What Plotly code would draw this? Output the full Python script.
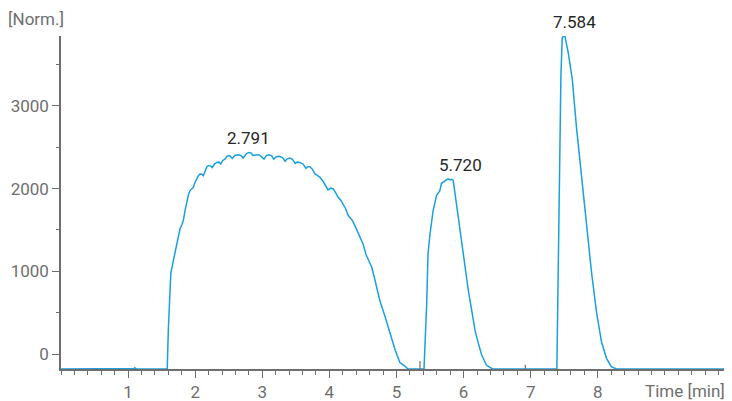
import plotly.graph_objects as go
import numpy as np

# Chromatogram signal (time in min, signal in Norm.)
time_min = [0.0, 1.05, 1.09, 1.10, 1.12, 1.15, 1.583, 1.60, 1.636, 1.675, 1.725, 1.774, 1.80, 1.823,
            1.85, 1.873, 1.90, 1.923, 1.95, 1.972, 2.0, 2.022, 2.05, 2.072, 2.10, 2.121, 2.15, 2.175,
            2.196, 2.23, 2.255, 2.29, 2.32, 2.355, 2.38, 2.41, 2.445, 2.47, 2.49, 2.52, 2.553, 2.59,
            2.64, 2.68, 2.715, 2.76, 2.80, 2.835, 2.86, 2.90, 2.94, 2.97, 3.0, 3.025, 3.06, 3.10,
            3.14, 3.17, 3.21, 3.25, 3.30, 3.34, 3.37, 3.41, 3.45, 3.49, 3.52, 3.56, 3.61, 3.65, 3.68,
            3.71, 3.75, 3.785, 3.82, 3.86, 3.90, 3.93, 3.96, 3.98, 4.02, 4.058, 4.10, 4.13, 4.17,
            4.207, 4.24, 4.28, 4.32, 4.356, 4.39, 4.43, 4.47, 4.50, 4.55, 4.59, 4.63, 4.68, 4.75,
            4.83, 4.90, 4.98, 5.05, 5.125, 5.17, 5.41, 5.45, 5.47, 5.50, 5.546, 5.596, 5.646, 5.67,
            5.72, 5.75, 5.77, 5.80, 5.82, 5.845, 5.88, 5.92, 5.97, 6.02, 6.07, 6.12, 6.17, 6.22,
            6.27, 6.34, 6.43, 7.39, 7.42, 7.45, 7.47, 7.49, 7.51, 7.56, 7.62, 7.68, 7.757, 7.83,
            7.906, 7.98, 8.055, 8.13, 8.20, 8.28, 10.0]
signal = [-181, -181, -175, -165, -178, -181, -181, 300, 972, 1133, 1333, 1514, 1560, 1614,
          1740, 1835, 1930, 1976, 2000, 2016, 2080, 2117, 2160, 2177, 2175, 2157, 2210, 2265,
          2277, 2275, 2255, 2300, 2317, 2320, 2297, 2340, 2357, 2390, 2398, 2395, 2365, 2400,
          2410, 2400, 2370, 2420, 2437, 2430, 2400, 2405, 2410, 2398, 2380, 2357, 2400, 2410,
          2395, 2357, 2385, 2390, 2375, 2330, 2360, 2370, 2355, 2305, 2320, 2317, 2295, 2245, 2265,
          2265, 2230, 2177, 2160, 2137, 2095, 2056, 2010, 1984, 2005, 1996, 1940, 1895, 1860,
          1815, 1760, 1675, 1640, 1594, 1530, 1454, 1390, 1333, 1193, 1120, 1052, 892, 651,
          450, 249, 48, -104, -145, -181, -181, 610, 1213, 1454, 1735, 1916, 1976, 2064,
          2088, 2100, 2117, 2105, 2112, 2100, 1895, 1614, 1333, 1052, 771, 530, 289, 129,
          -12, -133, -181, -181, 1956, 3361, 3823, 3843, 3843, 3642, 3321, 2759, 2157, 1554,
          992, 510, 148, -52, -153, -181, -181]

peak_labels = ["2.791", "5.720", "7.584"]
peak_windows = [(1.5, 5.3), (5.3, 6.6), (7.0, 8.5)]

event_times = [5.35, 6.92]
event_tops = [-85, -130]

x_ticks = [1, 2, 3, 4, 5, 6, 7, 8]
y_ticks = [0, 1000, 2000, 3000]

baseline = -181
FONT = "Roboto, sans-serif"
GRAY = "#6e6e6e"
BLUE = "#1a9fe0"
FS = 17

fig = go.Figure()
fig.add_trace(go.Scatter(x=time_min, y=signal, mode="lines",
                         line=dict(color=BLUE, width=1.5), hoverinfo="skip", showlegend=False))

ex, ey = [], []
for t, top in zip(event_times, event_tops):
    ex += [t, t, None]
    ey += [baseline, top, None]
fig.add_trace(go.Scatter(x=ex, y=ey, mode="lines", line=dict(color=GRAY, width=1.2),
                         hoverinfo="skip", showlegend=False))

t_arr = np.array(time_min)
s_arr = np.array(signal)
xshifts = [0, 12, 11]
for lab, (a, b), xs in zip(peak_labels, peak_windows, xshifts):
    m = (t_arr >= a) & (t_arr <= b)
    i = np.argmax(s_arr[m])
    fig.add_annotation(x=t_arr[m][i], y=s_arr[m][i], text=lab, showarrow=False,
                       xanchor="center", yanchor="bottom", yshift=2, xshift=xs,
                       font=dict(family=FONT, size=FS, color="#262626"))

fig.add_annotation(xref="paper", yref="paper", x=0, y=1, xshift=-55, yshift=5,
                   xanchor="left", yanchor="bottom", text="[Norm.]", showarrow=False,
                   font=dict(family=FONT, size=FS, color=GRAY))
fig.add_annotation(xref="paper", yref="paper", x=1, y=0, xshift=-5, yshift=-22,
                   xanchor="right", yanchor="middle", text="Time [min]", showarrow=False,
                   font=dict(family=FONT, size=FS, color=GRAY))

# page body has an 8px margin, so the figure is sized/offset to compensate
fig.update_layout(
    width=724, height=393,
    margin=dict(l=53, r=0, t=28, b=32),
    paper_bgcolor="white", plot_bgcolor="white",
    xaxis=dict(range=[0, 10], tickvals=x_ticks, ticktext=[str(v) for v in x_ticks],
               automargin=False,
               ticks="outside", ticklen=7, tickwidth=1.3, tickcolor=GRAY,
               showline=True, linecolor=GRAY, linewidth=1.5, showgrid=False, zeroline=False,
               tickfont=dict(family=FONT, size=FS, color=GRAY),
               minor=dict(dtick=0.2, tick0=0, ticks="outside", ticklen=4, tickcolor=GRAY,
                          tickwidth=1.2, showgrid=False)),
    yaxis=dict(range=[baseline, 3845], tickvals=y_ticks, ticktext=[str(v) for v in y_ticks],
               automargin=False,
               ticks="outside", ticklen=7, tickwidth=1.3, tickcolor=GRAY,
               showline=True, linecolor=GRAY, linewidth=1.5, showgrid=False, zeroline=False,
               tickfont=dict(family=FONT, size=FS, color=GRAY),
               minor=dict(dtick=500, tick0=0, ticks="outside", ticklen=3, tickcolor=GRAY,
                          tickwidth=1.2, showgrid=False)),
)

fig.write_html("out.html")
